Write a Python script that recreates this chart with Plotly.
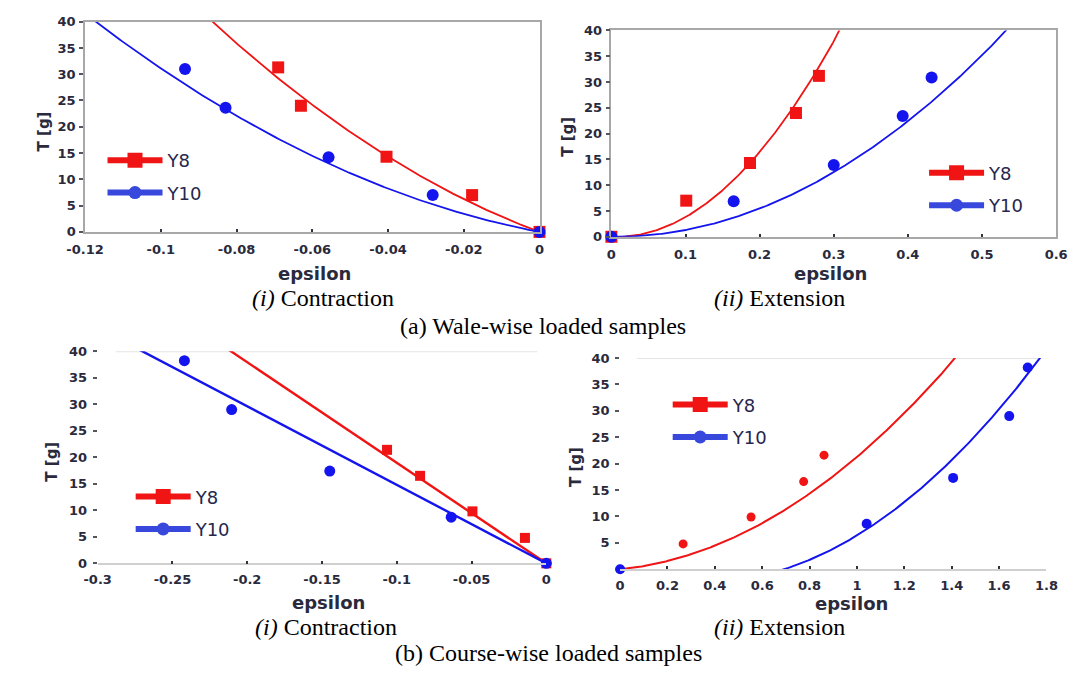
import numpy as np
import plotly.graph_objects as go

W, H = 1073, 675

# ---------------- measured points: tension T [g] vs strain epsilon ----------------
# (a) wale-wise loaded samples, contraction
wc_y8_eps = [0, -0.0178, -0.0404, -0.0630, -0.0690]
wc_y8_T = [0, 7.0, 14.3, 24.0, 31.3]
wc_y10_eps = [0, -0.0282, -0.0557, -0.0829, -0.0936]
wc_y10_T = [0, 7.0, 14.2, 23.6, 31.0]
# (a) wale-wise loaded samples, extension
we_y8_eps = [0, 0.101, 0.187, 0.249, 0.280]
we_y8_T = [0, 7.0, 14.3, 24.0, 31.2]
we_y10_eps = [0, 0.165, 0.300, 0.393, 0.432]
we_y10_T = [0, 6.9, 13.9, 23.4, 30.9]
# (b) course-wise loaded samples, contraction
cc_y8_eps = [0, -0.0143, -0.0494, -0.0844, -0.1065]
cc_y8_T = [0, 4.8, 9.8, 16.5, 21.4]
cc_y10_eps = [0, -0.0636, -0.1448, -0.2104, -0.2420]
cc_y10_T = [0, 8.7, 17.4, 29.0, 38.2]
# (b) course-wise loaded samples, extension
ce_y8_eps = [0, 0.266, 0.553, 0.775, 0.861]
ce_y8_T = [0, 4.8, 9.9, 16.6, 21.6]
ce_y10_eps = [0, 1.041, 1.406, 1.643, 1.721]
ce_y10_T = [0, 8.6, 17.3, 29.0, 38.2]

# trendlines T = c2*eps^2 + c1*eps (zero intercept), [c2, c1]
wc_y8_fit = [2275.0, -266.5]
wc_y10_fit = [1753.5, -135.8]
we_y8_fit = [441.5, -6.1]
we_y10_fit = [143.3, -1.3]
cc_y8_fit = [0.0, -189.6]
cc_y10_fit = [0.0, -148.0]
ce_y8_fit = [16.84, 4.42]
ce_y10_fit = [20.9, -14.5]

# axis ranges and tick labels
wc_range = [-0.12, 0.0]
wc_ticks = [-0.12, -0.1, -0.08, -0.06, -0.04, -0.02, 0]
wc_ticktext = ["-0.12", "-0.1", "-0.08", "-0.06", "-0.04", "-0.02", "0"]
we_range = [0.0, 0.6]
we_ticks = [0, 0.1, 0.2, 0.3, 0.4, 0.5, 0.6]
we_ticktext = ["0", "0.1", "0.2", "0.3", "0.4", "0.5", "0.6"]
cc_range = [-0.3, 0.0]
cc_ticks = [-0.3, -0.25, -0.2, -0.15, -0.1, -0.05, 0]
cc_ticktext = ["-0.3", "-0.25", "-0.2", "-0.15", "-0.1", "-0.05", "0"]
ce_range = [0.0, 1.8]
ce_ticks = [0, 0.2, 0.4, 0.6, 0.8, 1.0, 1.2, 1.4, 1.6, 1.8]
ce_ticktext = ["0", "0.2", "0.4", "0.6", "0.8", "1", "1.2", "1.4", "1.6", "1.8"]
T_ticks = [0, 5, 10, 15, 20, 25, 30, 35, 40]
T_ticks_ce = [5, 10, 15, 20, 25, 30, 35, 40]

series_names = ["Y8", "Y10"]

RED = "#f01414"
BLUE = "#1414ee"
LEG_BLUE = "#3848dc"
TXT = "#2a2a3c"


def px_x(p):
    return p / W


def px_y(p):
    return 1 - p / H


# plot-area rectangles in pixels: (left, right, top, bottom)
boxes = {
    1: (68, 536, 15, 230),
    2: (610, 1068, 24, 235),
    3: (81, 543, 352, 569),
    4: (619, 1058, 359, 575),
}

fig = go.Figure()


def fit_curve(coef, rng):
    e = np.linspace(rng[0], rng[1], 300)
    return e, coef[0] * e ** 2 + coef[1] * e


panels = [
    (1, wc_range, (wc_y8_eps, wc_y8_T, wc_y8_fit), (wc_y10_eps, wc_y10_T, wc_y10_fit), 12, 12, "square"),
    (2, we_range, (we_y8_eps, we_y8_T, we_y8_fit), (we_y10_eps, we_y10_T, we_y10_fit), 12, 12, "square"),
    (3, cc_range, (cc_y8_eps, cc_y8_T, cc_y8_fit), (cc_y10_eps, cc_y10_T, cc_y10_fit), 10, 11, "square"),
    (4, ce_range, (ce_y8_eps, ce_y8_T, ce_y8_fit), (ce_y10_eps, ce_y10_T, ce_y10_fit), 9, 10, "circle"),
]

line_w = {1: 1.8, 2: 1.8, 3: 2.4, 4: 2.0}

for k, rng, s8, s10, ms8, ms10, sym8 in panels:
    xa = "x" if k == 1 else f"x{k}"
    ya = "y" if k == 1 else f"y{k}"
    for (eps, T, coef), color in ((s8, RED), (s10, BLUE)):
        ex, ey = fit_curve(coef, rng)
        fig.add_trace(go.Scatter(x=ex, y=ey, mode="lines", xaxis=xa, yaxis=ya,
                                 line=dict(color=color, width=line_w[k]),
                                 showlegend=False, hoverinfo="skip"))
    fig.add_trace(go.Scatter(x=s8[0], y=s8[1], mode="markers", xaxis=xa, yaxis=ya,
                             marker=dict(symbol=sym8, size=ms8, color=RED),
                             cliponaxis=False, showlegend=False))
    fig.add_trace(go.Scatter(x=s10[0], y=s10[1], mode="markers", xaxis=xa, yaxis=ya,
                             marker=dict(symbol="circle", size=ms10, color=BLUE),
                             cliponaxis=False, showlegend=False))
    # legend entries
    leg = "legend" if k == 1 else f"legend{k}"
    fig.add_trace(go.Scatter(x=[None], y=[None], mode="lines+markers", xaxis=xa, yaxis=ya,
                             name=series_names[0], legend=leg, legendgroup=f"a{k}",
                             line=dict(color=RED, width=6),
                             marker=dict(symbol="square", size=15, color=RED)))
    fig.add_trace(go.Scatter(x=[None], y=[None], mode="lines+markers", xaxis=xa, yaxis=ya,
                             name=series_names[1], legend=leg, legendgroup=f"b{k}",
                             line=dict(color=LEG_BLUE, width=6),
                             marker=dict(symbol="circle", size=13, color=LEG_BLUE)))

tickfont = dict(family="DejaVu Sans", size=13, color=TXT, weight="bold")

layout = dict(
    width=W, height=H, margin=dict(l=0, r=0, t=0, b=0),
    paper_bgcolor="white", plot_bgcolor="white",
    font=dict(family="DejaVu Sans", color=TXT),
)

xcfg = {1: (wc_range, wc_ticks, wc_ticktext), 2: (we_range, we_ticks, we_ticktext),
        3: (cc_range, cc_ticks, cc_ticktext), 4: (ce_range, ce_ticks, ce_ticktext)}
for k, (l, r, t, b) in boxes.items():
    xname = "xaxis" if k == 1 else f"xaxis{k}"
    yname = "yaxis" if k == 1 else f"yaxis{k}"
    rng, tv, tt = xcfg[k]
    boxed = k in (1, 2)
    layout[xname] = dict(
        domain=[px_x(l), px_x(r)], range=rng, anchor="y" if k == 1 else f"y{k}",
        tickvals=tv, ticktext=tt, tickfont=tickfont,
        showgrid=False, zeroline=False,
        showline=True, linecolor="#a8a8a8" if boxed else "#cfcfcf", linewidth=1.5,
        mirror=boxed, ticks="inside", ticklen=3, tickwidth=2, tickcolor="#333340",
        ticklabelstandoff=5 if boxed else 3,
    )
    layout[yname] = dict(
        domain=[px_y(b), px_y(t)], range=[0, 40], anchor="x" if k == 1 else f"x{k}",
        tickvals=T_ticks_ce if k == 4 else T_ticks, tickfont=tickfont,
        showgrid=False, zeroline=False,
        showline=boxed, linecolor="#a8a8a8", linewidth=1.5, mirror=boxed,
        ticks="outside", ticklen=4, tickwidth=1.5, tickcolor="#555560",
        ticklabelstandoff=1 if boxed else 3,
    )

# legend boxes: (left px, top px)
ITEMW = 55
leg_pos = {1: (153 - ITEMW - 12, 138), 2: (999 - ITEMW - 12, 151),
           3: (182 - ITEMW - 12, 482), 4: (735 - ITEMW - 12, 388)}
for k, (lx, ty) in leg_pos.items():
    name = "legend" if k == 1 else f"legend{k}"
    layout[name] = dict(
        x=px_x(lx), y=px_y(ty), xanchor="left", yanchor="top",
        bgcolor="rgba(0,0,0,0)", borderwidth=0, tracegroupgap=6,
        font=dict(family="DejaVu Sans", size=18, color="#26264e"),
        itemwidth=ITEMW, traceorder="grouped",
    )

fig.update_layout(**layout)

# faint top border on the course-wise panels
for k in (3, 4):
    fig.add_shape(type="line", xref=f"x{k} domain", yref=f"y{k}", x0=0.04, x1=0.98, y0=40, y1=40,
                  line=dict(color="#e4e4e4", width=2), layer="below")

ann = []
# axis titles
for (x, y) in [(304, 273), (836, 273), (319, 609), (857, 610)]:
    ann.append(dict(text="epsilon", x=px_x(x), y=px_y(y), xref="paper", yref="paper",
                    xanchor="center", yanchor="middle", showarrow=False,
                    font=dict(family="DejaVu Sans", size=18, color=TXT, weight="bold")))
for (x, y) in [(26, 127), (565, 133), (34, 465), (573, 470)]:
    ann.append(dict(text="T [g]", x=px_x(x), y=px_y(y), xref="paper", yref="paper", textangle=-90,
                    xanchor="center", yanchor="middle", showarrow=False,
                    font=dict(family="DejaVu Sans", size=15, color=TXT, weight="bold")))
# captions
cap_font = dict(family="Liberation Serif", size=24, color="black")
captions = [
    ("<i>(i)</i> Contraction", 313, 298), ("<i>(ii)</i> Extension", 783, 298),
    ("(a) Wale-wise loaded samples", 540, 326),
    ("<i>(i)</i> Contraction", 316, 634), ("<i>(ii)</i> Extension", 783, 634),
    ("(b) Course-wise loaded samples", 545, 661),
]
for text, x, y in captions:
    ann.append(dict(text=text, x=px_x(x), y=px_y(y), xref="paper", yref="paper",
                    xanchor="center", yanchor="middle", showarrow=False, font=cap_font))
fig.update_layout(annotations=ann)

fig.write_html("out.html")
